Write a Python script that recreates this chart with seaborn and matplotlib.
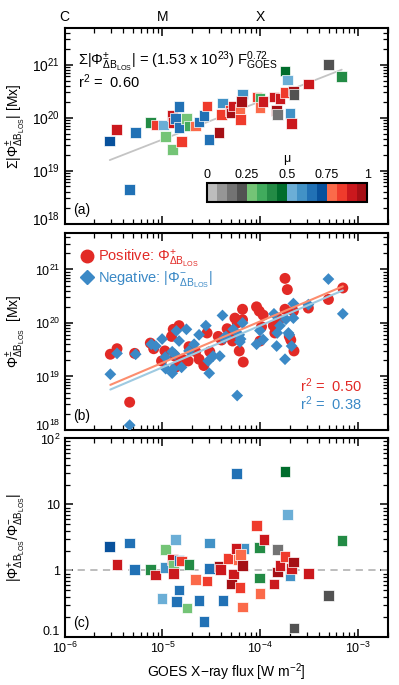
import numpy as np
import seaborn as sns
import matplotlib.pyplot as plt
from matplotlib.colors import ListedColormap, BoundaryNorm
from matplotlib.cm import ScalarMappable
from matplotlib.lines import Line2D
from matplotlib.transforms import ScaledTranslation

# colour table for mu: 4 greys, 4 greens, 4 blues, 4 reds
mu_colors = ["#bdbdbd", "#969696", "#737373", "#525252",
             "#74c476", "#41ab5d", "#238b45", "#006d2c",
             "#6baed6", "#4292c6", "#2171b5", "#08519c",
             "#fb6a4a", "#ef3b2c", "#cb181d", "#a50f15"]
mu_ticks = [0, 0.25, 0.5, 0.75, 1]
mu_ticklabels = ["0", "0.25", "0.5", "0.75", "1"]

goes_ticks = [1e-6, 1e-5, 1e-4, 1e-3]
goes_class = ["C", "M", "X", ""]

# (a) total unsigned flux change
flux_a = [2.9e-6, 3.4e-6, 5.3e-6, 4.6e-6, 7.6e-6, 8.7e-6, 1.02e-5, 1.07e-5, 1.26e-5, 1.26e-5,
          1.29e-5, 1.37e-5, 1.48e-5, 1.48e-5, 1.57e-5, 1.76e-5, 1.87e-5, 2.19e-5, 2.37e-5, 2.65e-5,
          2.86e-5, 3.0e-5, 3.8e-5, 4.0e-5, 4.1e-5, 4.9e-5, 5.1e-5, 5.3e-5, 6.2e-5, 6.3e-5,
          6.6e-5, 6.4e-5, 9.3e-5, 9.9e-5, 9.9e-5, 1.07e-4, 1.38e-4, 1.47e-4, 1.49e-4, 1.59e-4,
          1.79e-4, 1.79e-4, 1.89e-4, 2.18e-4, 2.21e-4, 2.01e-4, 2.09e-4, 3.1e-4, 5.0e-4, 6.8e-4]
sum_a = [3.6e19, 6.0e19, 5.2e19, 4.4e18, 8.1e19, 7.2e19, 7.2e19, 4.4e19, 2.5e19, 1.1e20,
         8.1e19, 9.5e19, 1.6e20, 6.5e19, 3.5e19, 9.5e19, 6.9e19, 6.9e19, 8.3e19, 1.1e20,
         1.66e20, 3.9e19, 5.2e19, 1.15e20, 1.9e20, 1.35e20, 1.23e20, 1.66e20, 1.45e20, 9.1e19,
         2.8e20, 2.0e20, 2.45e20, 2.3e20, 1.55e20, 2.0e20, 2.45e20, 1.35e20, 1.15e20, 2.3e20,
         3.0e20, 7.6e20, 5.1e20, 3.2e20, 2.7e20, 1.2e20, 7.8e19, 4.3e20, 1.0e21, 6.0e20]
mu_a = [0.72, 0.90, 0.65, 0.65, 0.40, 0.84, 0.53, 0.28, 0.28, 0.90,
        0.90, 0.65, 0.65, 0.65, 0.84, 0.28, 0.34, 0.78, 0.65, 0.65,
        0.84, 0.65, 0.97, 0.84, 0.59, 0.84, 0.97, 0.90, 0.78, 0.84,
        0.59, 0.97, 0.84, 0.34, 0.78, 0.90, 0.90, 0.97, 0.16, 0.90,
        0.84, 0.47, 0.53, 0.97, 0.22, 0.59, 0.90, 0.90, 0.22, 0.40]
fit_a_coef = 1.53e23
fit_a_index = 0.72
r2_a = 0.60

# (b) positive and negative flux change
flux_pos = [2.94e-6, 3.44e-6, 4.63e-6, 5.21e-6, 7.53e-6, 8.15e-6, 9.8e-6, 1.06e-5, 1.24e-5, 1.29e-5,
            1.34e-5, 1.37e-5, 1.48e-5, 1.60e-5, 1.69e-5, 1.83e-5, 1.87e-5, 2.19e-5, 2.37e-5, 2.65e-5,
            2.86e-5, 3.05e-5, 3.72e-5, 4.02e-5, 4.59e-5, 5.21e-5, 5.30e-5, 5.51e-5, 5.82e-5, 6.10e-5,
            6.59e-5, 6.70e-5, 6.59e-5, 9.16e-5, 9.77e-5, 1.07e-4, 9.93e-5, 1.03e-4, 1.36e-4, 1.41e-4,
            1.57e-4, 1.79e-4, 1.89e-4, 1.79e-4, 1.98e-4, 2.05e-4, 2.18e-4, 2.21e-4, 3.10e-4, 4.97e-4,
            6.97e-4]
phi_pos = [2.6e19, 3.3e19, 3.3e18, 2.7e19, 4.2e19, 3.3e19, 1.95e19, 3.0e19, 5.6e19, 7.6e19,
           2.4e19, 1.5e19, 8.9e19, 2.1e19, 1.95e19, 1.95e19, 3.6e19, 2.9e19, 2.1e19, 1.6e19,
           6.5e19, 2.9e19, 5.6e19, 4.8e19, 7.8e19, 4.6e19, 6.5e19, 1.23e20, 1.0e20, 3.0e19,
           1.8e20, 1.86e19, 1.15e20, 2.0e20, 1.66e20, 1.4e20, 4.6e19, 8.5e19, 8.9e19, 6.5e19,
           1.17e20, 6.8e20, 4.2e20, 1.8e20, 5.6e19, 4.8e19, 1.66e20, 3.0e19, 1.9e20, 2.75e20,
           4.5e20]
flux_neg = [2.94e-6, 3.44e-6, 4.63e-6, 5.33e-6, 7.71e-6, 8.55e-6, 9.93e-6, 1.07e-5, 1.08e-5, 1.26e-5,
            1.29e-5, 1.26e-5, 1.34e-5, 1.39e-5, 1.48e-5, 1.57e-5, 1.76e-5, 1.87e-5, 2.11e-5, 2.37e-5,
            2.78e-5, 2.94e-5, 3.01e-5, 3.30e-5, 3.86e-5, 4.11e-5, 4.25e-5, 4.45e-5, 5.30e-5, 6.10e-5,
            6.19e-5, 6.30e-5, 6.59e-5, 5.81e-5, 9.16e-5, 9.93e-5, 1.07e-4, 1.38e-4, 1.47e-4, 1.49e-4,
            1.59e-4, 1.79e-4, 1.83e-4, 1.94e-4, 1.98e-4, 2.09e-4, 2.18e-4, 2.18e-4, 3.10e-4, 4.97e-4,
            6.97e-4]
phi_neg = [1.1e19, 2.7e19, 1.23e18, 2.6e19, 4.0e19, 3.7e19, 5.0e19, 2.3e19, 1.4e19, 1.15e19,
           1.38e19, 2.9e19, 2.6e19, 7.1e19, 4.6e19, 1.48e19, 7.6e19, 3.0e19, 4.0e19, 6.0e19,
           8.9e19, 1.95e19, 1.15e19, 2.4e19, 2.4e19, 1.38e20, 5.2e19, 5.6e19, 7.6e19, 6.0e19,
           4.4e19, 5.0e19, 1.0e20, 4.4e18, 4.0e19, 7.2e19, 4.9e19, 1.48e20, 3.7e19, 6.5e19,
           8.9e19, 2.1e19, 1.17e20, 6.5e19, 6.0e19, 3.7e19, 2.3e20, 1.23e20, 2.2e20, 6.6e20,
           1.48e20]
fit_pos = (23.13, 0.775)   # log10 intercept, slope
fit_neg = (23.07, 0.78)
r2_pos = 0.50
r2_neg = 0.38

# (c) ratio of positive to negative flux change
flux_c = [2.89e-6, 3.44e-6, 4.63e-6, 5.21e-6, 7.53e-6, 8.55e-6, 9.93e-6, 1.07e-5, 1.06e-5, 1.26e-5,
          1.29e-5, 1.29e-5, 1.37e-5, 1.39e-5, 1.48e-5, 1.48e-5, 1.57e-5, 1.79e-5, 1.87e-5, 2.19e-5,
          2.37e-5, 2.65e-5, 2.86e-5, 3.01e-5, 3.01e-5, 3.80e-5, 3.93e-5, 4.18e-5, 4.70e-5, 5.08e-5,
          5.30e-5, 5.73e-5, 6.70e-5, 5.64e-5, 5.96e-5, 6.30e-5, 6.59e-5, 6.19e-5, 6.59e-5, 9.16e-5,
          9.77e-5, 9.77e-5, 9.93e-5, 1.09e-4, 1.38e-4, 1.49e-4, 1.49e-4, 1.59e-4, 1.79e-4, 1.89e-4,
          1.79e-4, 2.01e-4, 2.09e-4, 2.18e-4, 2.21e-4, 3.10e-4, 4.97e-4, 6.81e-4]
ratio_c = [2.33, 1.24, 2.61, 1.04, 1.04, 0.85, 0.38, 2.07, 1.10, 1.47,
           1.20, 0.90, 2.93, 0.34, 0.51, 1.43, 1.40, 0.27, 1.24, 0.73,
           0.35, 0.168, 0.69, 2.61, 1.07, 1.16, 1.04, 0.35, 1.52, 0.62,
           0.88, 29.6, 2.15, 2.15, 1.47, 1.76, 1.20, 0.55, 0.28, 4.82,
           2.22, 0.77, 0.45, 2.93, 0.62, 2.07, 0.95, 1.20, 31.8, 7.06,
           1.64, 0.82, 1.07, 1.35, 0.134, 0.90, 0.42, 2.86]
mu_c = [0.72, 0.90, 0.65, 0.65, 0.40, 0.90, 0.53, 0.28, 0.59, 0.90,
        0.28, 0.90, 0.53, 0.65, 0.65, 0.65, 0.84, 0.28, 0.40, 0.78,
        0.65, 0.65, 0.84, 0.59, 0.65, 0.97, 0.90, 0.65, 0.84, 0.97,
        0.90, 0.65, 0.59, 0.90, 0.78, 0.78, 0.97, 0.84, 0.78, 0.84,
        0.40, 0.40, 0.78, 0.90, 0.90, 0.16, 0.97, 0.90, 0.47, 0.53,
        0.84, 0.59, 0.90, 0.97, 0.22, 0.90, 0.22, 0.40]

red = "#e22a26"
blue = "#3b89c6"

sns.set_theme(style="ticks")
plt.rcParams["font.family"] = ["Liberation Sans", "DejaVu Sans"]
plt.rcParams.update({
    "mathtext.fontset": "custom",
    "mathtext.rm": "Liberation Sans",
    "mathtext.it": "Liberation Sans:italic",
    "mathtext.bf": "Liberation Sans:bold",
    "mathtext.sf": "Liberation Sans",
    "mathtext.default": "regular",
    "axes.linewidth": 1.5,
    "axes.edgecolor": "black",
    "xtick.color": "black",
    "ytick.color": "black",
    "text.color": "black",
    "axes.labelcolor": "black",
})

cmap = ListedColormap(mu_colors)
norm = BoundaryNorm(np.linspace(0, 1, len(mu_colors) + 1), len(mu_colors))

fig = plt.figure(figsize=(3.99, 6.85), dpi=100)
left, width = 0.1617, 0.8108
ax_a = fig.add_axes([left, 0.6737, width, 0.2847])
ax_b = fig.add_axes([left, 0.3723, width, 0.2876])
ax_c = fig.add_axes([left, 0.0708, width, 0.2891])

for ax in (ax_a, ax_b, ax_c):
    ax.set_xscale("log")
    ax.set_yscale("log")
    ax.set_xlim(1e-6, 2.02e-3)
    ax.set_xticks(goes_ticks)
    ax.tick_params(which="both", direction="in", top=True, right=True,
                   labelsize=9, pad=3)
    ax.tick_params(which="major", length=6, width=1.1)
    ax.tick_params(which="minor", length=3.5, width=0.9)

# ---- (a)
fx = np.array([min(flux_a), max(flux_a)])
sns.lineplot(x=fx, y=fit_a_coef * fx ** fit_a_index, color="#c4c4c4", lw=1.3, ax=ax_a, zorder=1)
sns.scatterplot(x=flux_a, y=sum_a, hue=mu_a, palette=cmap, hue_norm=norm, marker="s", s=58,
                edgecolor="white", linewidth=0.5, legend=False, ax=ax_a, zorder=2)
ax_a.set_ylim(1e18, 4.8e21)
ax_a.set_xticklabels(goes_class)
ax_a.tick_params(labelbottom=False, labeltop=True, labelsize=10)
ax_a.set_ylabel(r"$\Sigma|\Phi^{\pm}_{\Delta B_{LOS}}|$ [Mx]", fontsize=10)
ax_a.text(0.042, 0.83, r"$\Sigma|\Phi^{\pm}_{\Delta B_{LOS}}|$ = (1.53 x 10$^{23}$) F$^{0.72}_{GOES}$",
          transform=ax_a.transAxes, fontsize=10.5, va="center")
ax_a.text(0.042, 0.725, r"r$^2$ =  %.2f" % r2_a, transform=ax_a.transAxes, fontsize=10.5, va="center")
ax_a.text(0.028, 0.07, "(a)", transform=ax_a.transAxes, fontsize=10, va="center")

cax = fig.add_axes([0.519, 0.705, 0.401, 0.0277])
cb = fig.colorbar(ScalarMappable(norm=norm, cmap=cmap), cax=cax, orientation="horizontal",
                  ticks=mu_ticks)
cax.xaxis.set_ticks_position("top")
cb.set_ticklabels(mu_ticklabels)
cb.outline.set_linewidth(1.5)
cax.tick_params(direction="in", length=3, labelsize=9, pad=1.5)
cax.minorticks_off()
cax.text(0.5, 2.2, r"$\mu$", transform=cax.transAxes, fontsize=9, ha="center", va="center")

# ---- (b)
sns.scatterplot(x=flux_pos, y=phi_pos, color=red, marker="o", s=62, edgecolor="none", ax=ax_b, zorder=2)
sns.scatterplot(x=flux_neg, y=phi_neg, color=blue, marker="D", s=36, edgecolor="none", ax=ax_b, zorder=3)
for fl, (a0, a1), col in ((flux_pos, fit_pos, "#fc8d6e"), (flux_neg, fit_neg, "#9ecae1")):
    lx = np.array([min(fl), max(fl)])
    sns.lineplot(x=lx, y=10 ** (a0 + a1 * np.log10(lx)), color=col, lw=1.5, ax=ax_b, zorder=4)
ax_b.set_ylim(1e18, 4.8e21)
ax_b.tick_params(labelbottom=False)
ax_b.set_ylabel(r"$\Phi^{\pm}_{\Delta B_{LOS}}$  [Mx]", fontsize=10)
handles = [Line2D([], [], ls="", marker="o", ms=9, color=red),
           Line2D([], [], ls="", marker="D", ms=7, color=blue)]
leg = ax_b.legend(handles, [r"Positive: $\Phi^{+}_{\Delta B_{LOS}}$",
                            r"Negative: $|\Phi^{-}_{\Delta B_{LOS}}|$"],
                  loc="upper left", bbox_to_anchor=(0.01, 0.97), frameon=False, fontsize=10.5,
                  handletextpad=0.05, handlelength=1.4, labelspacing=0.0, borderaxespad=0.2)
for txt, col in zip(leg.get_texts(), (red, blue)):
    txt.set_color(col)
ax_b.text(0.92, 0.225, r"r$^2$ =  %.2f" % r2_pos, color=red, transform=ax_b.transAxes,
          fontsize=10.5, ha="right", va="center")
ax_b.text(0.92, 0.135, r"r$^2$ =  %.2f" % r2_neg, color=blue, transform=ax_b.transAxes,
          fontsize=10.5, ha="right", va="center")
ax_b.text(0.028, 0.07, "(b)", transform=ax_b.transAxes, fontsize=10, va="center")

# ---- (c)
ax_c.axhline(1, color="#b8b8b8", ls=(0, (4, 3)), lw=1.3, zorder=1)
sns.scatterplot(x=flux_c, y=ratio_c, hue=mu_c, palette=cmap, hue_norm=norm, marker="s", s=58,
                edgecolor="white", linewidth=0.5, legend=False, ax=ax_c, zorder=2)
ax_c.set_ylim(0.1, 100)
ax_c.set_yticks([0.1, 1, 10, 100])
ax_c.set_yticklabels(["0.1", "1", "10", r"10$^2$"])
ax_c.set_xlabel("GOES X\u2212ray flux [W m$^{-2}$]", fontsize=10, labelpad=4)
ax_c.set_ylabel(r"$|\Phi^{+}_{\Delta B_{LOS}}/\Phi^{-}_{\Delta B_{LOS}}|$", fontsize=10)
ax_c.text(0.028, 0.07, "(c)", transform=ax_c.transAxes, fontsize=10, va="center")

for ax in (ax_a, ax_b, ax_c):
    ax.yaxis.set_label_coords(-0.115, 0.5)

# lift the lowest y label of each panel a little, as in the original layout
fig.canvas.draw()
lift = ScaledTranslation(0, 4 / 72, fig.dpi_scale_trans)
for ax, low in ((ax_a, 1e18), (ax_b, 1e18), (ax_c, 0.1)):
    for tick in ax.yaxis.get_major_ticks():
        if np.isclose(tick.get_loc(), low, rtol=1e-3):
            tick.label1.set_transform(tick.label1.get_transform() + lift)

fig.savefig("out.png", dpi=100)
